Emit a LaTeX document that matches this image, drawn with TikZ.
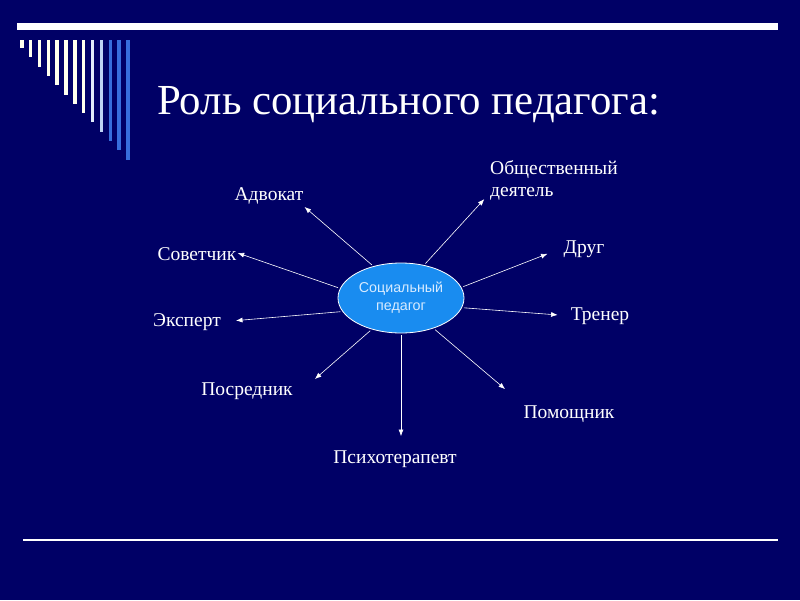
\documentclass[tikz,border=0pt]{standalone}
\usepackage{fontspec}
\setmainfont{Liberation Serif}
\newfontfamily\arialfont{Liberation Sans}
\usetikzlibrary{arrows.meta, shapes.geometric}
\definecolor{slidebg}{RGB}{0,0,102}
\definecolor{ellfill}{RGB}{25,140,240}
\definecolor{elltext}{RGB}{215,235,255}
\definecolor{barwhite}{RGB}{255,255,238}
\definecolor{barpale}{RGB}{225,235,250}
\definecolor{barlight}{RGB}{190,210,245}
\definecolor{barblue}{RGB}{55,110,220}
\tikzset{%
	role/.style={text=white, font=\fontsize{19.5}{22}\selectfont, inner sep=3pt},
	centre/.style={draw=white, line width=0.8pt, ellipse, fill=ellfill,%
		minimum width=126pt, minimum height=70pt, inner sep=0pt, align=center,%
		text=elltext, font=\arialfont\fontsize{14.3}{18}\selectfont},
	sel/.style={-{Latex[length=6.5pt,width=5pt]}, draw=white, line width=0.6pt, shorten <=2pt},
	heading/.style={text=white, font=\fontsize{42.8}{46}\selectfont, inner sep=0pt}
}
\begin{document}
\begin{tikzpicture}[x=1pt, y=-1pt]
		\useasboundingbox (0,0) rectangle (800,600);
		\fill[slidebg] (0,0) rectangle (800,600);
		% slide decoration
		\fill[white] (17,23) rectangle (778,30);
		\foreach \i/\c in {0/barwhite,1/barwhite,2/barwhite,3/barwhite,4/barwhite,5/barwhite,6/barwhite,%
			7/barwhite,8/barpale,9/barlight,10/barblue,11/barblue,12/barblue}
			\fill[\c] ({20+8.85*\i},40) rectangle ++(3.5,{8+9.3*\i});
		\draw[white, line width=1.5pt] (23,540) -- (778,540);

		\node[heading, anchor=base west] (title) at (157,114) {Роль социального педагога:};

		\node[centre] (ped) at (401,298) {Социальный\\педагог};
		\node[role, anchor=base] (adv) at (269,200) {Адвокат};
		\node[role, anchor=north west, align=left] (obsh) at (487,157) {Общественный\\деятель};
		\node[role, anchor=base] (sov) at (197,260) {Советчик};
		\node[role, anchor=base] (drug) at (584,253) {Друг};
		\node[role, anchor=base] (eksp) at (187,326) {Эксперт};
		\node[role, anchor=base] (trener) at (600,320) {Тренер};
		\node[role, anchor=base] (posr) at (247,395) {Посредник};
		\node[role, anchor=base] (pomosh) at (569,418) {Помощник};
		\node[role, anchor=base] (psych) at (395,463) {Психотерапевт};

		\draw [sel] (ped.131) to ([xshift=-2pt]adv.south east);
		\draw [sel, shorten >=4pt] (ped.55) to ([yshift=7pt]obsh.south west);
		\draw [sel, shorten >=-2pt] (ped.171) to (sov.east);
		\draw [sel, shorten >=14pt] (ped.10) to (drug.west);
		\draw [sel, shorten >=12pt] (ped.193) to (eksp.east);
		\draw [sel, shorten >=10pt] (ped.351) to (trener.west);
		\draw [sel] (ped.227) to ([xshift=19pt]posr.north east);
		\draw [sel, shorten >=20pt] (ped.317) to (pomosh.north west);
		\draw [sel, shorten >=11pt] (ped.south) to (ped.south |- psych.north);

	\end{tikzpicture}
\end{document}
